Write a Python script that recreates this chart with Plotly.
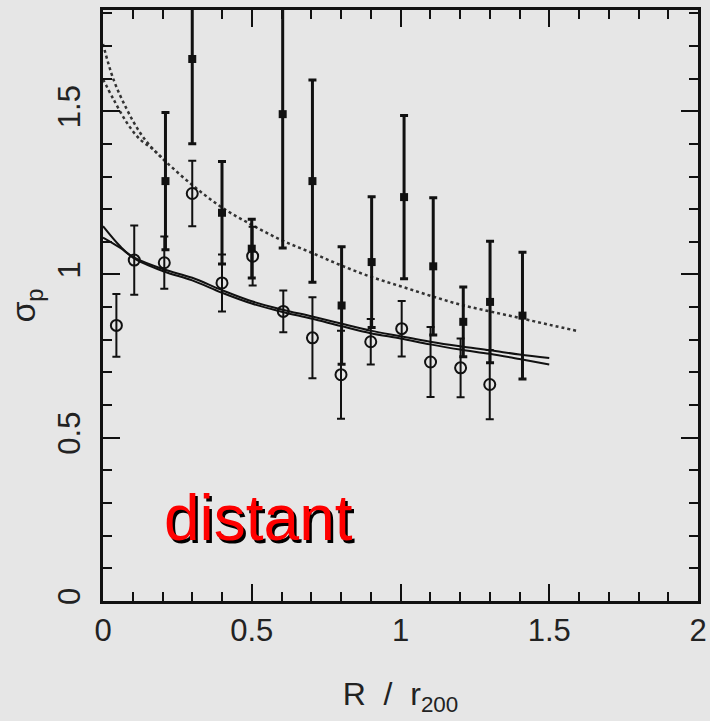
import plotly.graph_objects as go

# ---- data ----
sq_x = [0.21, 0.30, 0.40, 0.50, 0.604, 0.704, 0.802, 0.903, 1.012, 1.110, 1.211, 1.301, 1.410]
sq_y = [1.286, 1.66, 1.189, 1.079, 1.491, 1.286, 0.905, 1.038, 1.237, 1.025, 0.855, 0.916, 0.874]
sq_err = [0.21, 0.26, 0.157, 0.09, 0.41, 0.31, 0.18, 0.20, 0.25, 0.21, 0.107, 0.186, 0.194]

ci_x = [0.045, 0.105, 0.206, 0.30, 0.40, 0.503, 0.606, 0.704, 0.80, 0.90, 1.004, 1.101, 1.202, 1.30]
ci_y = [0.844, 1.044, 1.036, 1.248, 0.974, 1.056, 0.887, 0.806, 0.693, 0.794, 0.834, 0.732, 0.714, 0.663]
ci_err = [0.096, 0.106, 0.08, 0.10, 0.087, 0.09, 0.064, 0.124, 0.135, 0.07, 0.085, 0.107, 0.09, 0.106]

dot_a_x = [0, 0.035, 0.08, 0.124, 0.169, 0.214, 0.304, 0.4, 0.5, 0.6, 0.7, 0.8, 0.9, 1.0, 1.1, 1.2, 1.3, 1.4, 1.5, 1.6]
dot_a_y = [1.706, 1.598, 1.506, 1.435, 1.383, 1.343, 1.271, 1.205, 1.152, 1.105, 1.067, 1.028, 0.993, 0.964,
           0.935, 0.908, 0.887, 0.867, 0.846, 0.826]
dot_b_x = [0, 0.035, 0.08, 0.124, 0.169, 0.214]
dot_b_y = [1.598, 1.537, 1.465, 1.414, 1.383, 1.343]

sol_x = [0, 0.057, 0.102, 0.203, 0.3, 0.4, 0.5, 0.6, 0.7, 0.8, 0.9, 1.0, 1.1, 1.2, 1.3, 1.4, 1.5]
sol_a_y = [1.148, 1.087, 1.051, 1.010, 0.982, 0.944, 0.911, 0.886, 0.865, 0.842, 0.820, 0.804, 0.786,
           0.770, 0.757, 0.741, 0.724]
sol_b_y = [1.113, 1.082, 1.053, 1.016, 0.990, 0.952, 0.918, 0.893, 0.872, 0.850, 0.828, 0.811, 0.794,
           0.780, 0.768, 0.755, 0.744]

x_ticks = [0, 0.5, 1, 1.5, 2]
x_ticklabels = ["0", "0.5", "1", "1.5", "2"]
y_ticks = [0, 0.5, 1, 1.5]
y_ticklabels = ["0", "0.5", "1", "1.5"]

BG = "#e6e6e6"
INK = "#111111"
FONT = "Liberation Sans, Arial, sans-serif"

fig = go.Figure()

fig.add_trace(go.Scatter(x=dot_a_x, y=dot_a_y, mode="lines", line=dict(color="#333", width=2.5, dash="dot", shape="spline"),
                         hoverinfo="skip"))
fig.add_trace(go.Scatter(x=dot_b_x, y=dot_b_y, mode="lines", line=dict(color="#333", width=2.5, dash="dot", shape="spline"),
                         hoverinfo="skip"))
fig.add_trace(go.Scatter(x=sol_x, y=sol_a_y, mode="lines", line=dict(color=INK, width=2, shape="spline")))
fig.add_trace(go.Scatter(x=sol_x, y=sol_b_y, mode="lines", line=dict(color=INK, width=2, shape="spline")))

fig.add_trace(go.Scatter(
    x=sq_x, y=sq_y, mode="markers",
    marker=dict(symbol="square", size=8, color=INK),
    error_y=dict(type="data", array=sq_err, color=INK, thickness=3, width=4),
))
fig.add_trace(go.Scatter(
    x=ci_x, y=ci_y, mode="markers",
    marker=dict(symbol="circle-open", size=11, color=INK, line=dict(width=2)),
    error_y=dict(type="data", array=ci_err, color=INK, thickness=2, width=4),
))

# "distant" label with a black drop shadow
fig.add_annotation(x=0.521, y=0.255, xref="x", yref="y", text="distant", showarrow=False,
                   font=dict(family=FONT, size=64, color="#ff0000", shadow="2.5px 2.5px 0px #000000"))

axis_common = dict(
    showgrid=False, zeroline=False, showline=True, linecolor=INK, linewidth=2.5, mirror="ticks",
    ticks="inside", ticklen=17, tickwidth=2, tickcolor=INK,
    tickfont=dict(family=FONT, size=31, color="#222"),
)

fig.update_xaxes(
    range=[0, 2], tickvals=x_ticks, ticktext=x_ticklabels,
    minor=dict(dtick=0.1, ticks="inside", ticklen=9, tickwidth=2, tickcolor=INK),
    title=dict(text="R  /  r<sub>200</sub>", font=dict(family=FONT, size=32, color="#222"), standoff=36),
    **axis_common,
)
fig.update_yaxes(
    range=[0, 1.81], tickvals=y_ticks, ticktext=y_ticklabels, tickangle=-90,
    ticklabelstandoff=8,
    minor=dict(dtick=0.1, ticks="inside", ticklen=9, tickwidth=2, tickcolor=INK),
    title=dict(text="σ<sub>p</sub>", font=dict(family=FONT, size=34, color="#222"), standoff=6),
    **axis_common,
)

fig.update_layout(
    width=710, height=721, showlegend=False,
    paper_bgcolor=BG, plot_bgcolor=BG,
    margin=dict(l=103, r=12, t=10, b=120, autoexpand=False),
)

fig.write_html("out.html")
